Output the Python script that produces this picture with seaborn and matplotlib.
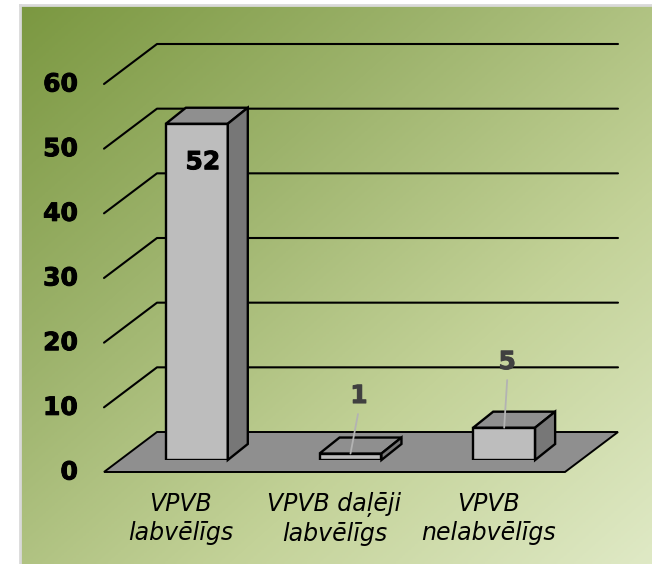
import matplotlib
matplotlib.use("Agg")
import matplotlib.pyplot as plt
import matplotlib.patheffects as pe
import matplotlib.transforms as mtrans
from matplotlib.patches import Polygon
from matplotlib.colors import LinearSegmentedColormap
import numpy as np
import pandas as pd
import seaborn as sns

categories = ["VPVB\nlabvēlīgs", "VPVB daļēji\nlabvēlīgs", "VPVB\nnelabvēlīgs"]
values = [52, 1, 5]
tick_values = [0, 10, 20, 30, 40, 50, 60]

W, H = 652, 564
sns.set_style("white")
plt.rcParams["font.family"] = ["DejaVu Sans"]

fig = plt.figure(figsize=(W / 100, H / 100), dpi=100, facecolor="white")


def px_axes(left, top, right, bottom, **kw):
    return fig.add_axes([left / W, 1 - bottom / H, (right - left) / W, (bottom - top) / H], **kw)


# sfondo con gradiente e bordo
bg = px_axes(20, 5, 652, 564)
cmap = LinearSegmentedColormap.from_list("bg", ["#7b9841", "#9db36c", "#c3d298", "#dfe9c5"])
gx, gy = np.meshgrid(np.linspace(0, 1, 200), np.linspace(0, 1, 200))
bg.imshow((gx + gy) / 2, cmap=cmap, aspect="auto", extent=(0, 1, 0, 1))
bg.set_xticks([])
bg.set_yticks([])
for s in ["top", "left"]:
    bg.spines[s].set_color("#d9d9d9")
    bg.spines[s].set_linewidth(2)
for s in ["right", "bottom"]:
    bg.spines[s].set_visible(False)

# il piano degli assi e' quello delle facce frontali delle barre
ax = px_axes(120, 72, 581, 460)
ax.patch.set_alpha(0)
df = pd.DataFrame({"cat": categories, "val": values})

sns.barplot(data=df, x="cat", y="val", ax=ax, width=0.403, color="#bdbdbd", saturation=1,
            edgecolor="black", linewidth=1.7, zorder=3)
x0, x1 = -0.5, 2.5
ax.set_xlim(x0, x1)
ax.set_ylim(0, 60)

FRONT = (-16, -12)   # spigolo anteriore del pavimento
BACK = (37, 28)      # parete di fondo
DEPTH = (20, 16)     # profondita' delle barre


def shifted(dx, dy):
    return mtrans.offset_copy(ax.transData, fig=fig, x=dx, y=dy, units="dots")


t_f, t_b, t_d = shifted(*FRONT), shifted(*BACK), shifted(*DEPTH)
to_ax = ax.transData.inverted()

# pavimento
corners = [t_f.transform((x0, 0)), t_f.transform((x1, 0)), t_b.transform((x1, 0)), t_b.transform((x0, 0))]
ax.add_patch(Polygon(to_ax.transform(corners), closed=True, fc="#8f8f8f", ec="black", lw=1.4, zorder=1, clip_on=False))

# griglia sulla parete e sul lato sinistro
for v in tick_values[1:]:
    pts = to_ax.transform([t_f.transform((x0, v)), t_b.transform((x0, v)), t_b.transform((x1, v))])
    ax.plot(pts[:, 0], pts[:, 1], color="black", lw=1.5, zorder=1, clip_on=False)

# facce laterale e superiore di ogni barra
for bar in list(ax.containers[0]):
    l, w, h = bar.get_x(), bar.get_width(), bar.get_height()
    r = l + w
    top = [ax.transData.transform((l, h)), ax.transData.transform((r, h)), t_d.transform((r, h)), t_d.transform((l, h))]
    side = [ax.transData.transform((r, 0)), ax.transData.transform((r, h)), t_d.transform((r, h)), t_d.transform((r, 0))]
    ax.add_patch(Polygon(to_ax.transform(top), closed=True, fc="#8f8f8f", ec="black", lw=1.7, zorder=3, clip_on=False))
    ax.add_patch(Polygon(to_ax.transform(side), closed=True, fc="#777777", ec="black", lw=1.7, zorder=3, clip_on=False))

# etichette dei valori (scostamenti in pixel dalla cima della barra)
label_offset = [(6, -38.5), (8.5, 57.5), (3, 65.6)]
label_color = ["black", "#404040", "#404040"]
leader_start = [None, (7.5, 39.5), (3, 47.6)]
for i, v in enumerate(values):
    ox, oy = label_offset[i]
    txt = ax.annotate(str(v), xy=(i, v), xytext=(ox * 0.72, oy * 0.72), textcoords="offset points", ha="center", va="center",
                      fontsize=18, fontweight="bold", color=label_color[i], zorder=5)
    txt.set_path_effects([pe.withStroke(linewidth=0.7, foreground=label_color[i])])
    if leader_start[i] is not None:
        lx, ly = leader_start[i]
        ax.annotate("", xy=(i, v), xytext=(lx * 0.72, ly * 0.72), textcoords="offset points",
                    arrowprops=dict(arrowstyle="-", color="#b3b3b3", lw=1.3, shrinkA=0, shrinkB=0), zorder=4)

# etichette degli assi, sul piano anteriore
sns.despine(ax=ax, left=True, bottom=True)
ax.set_xlabel("")
ax.set_ylabel("")
ax.set_yticks(tick_values)
ax.set_yticklabels(tick_values, fontsize=18, fontweight="bold", color="black")
ax.tick_params(axis="y", length=0, pad=0)
for lab in ax.get_yticklabels():
    lab.set_transform(lab.get_transform() + mtrans.Affine2D().translate(-42, -10))
    lab.set_path_effects([pe.withStroke(linewidth=0.7, foreground="black")])
ax.set_xticks(range(3))
ax.set_xticklabels(categories, fontsize=17, fontstyle="italic", color="black", linespacing=1.27)
ax.tick_params(axis="x", length=0, pad=0)
for lab in ax.get_xticklabels():
    lab.set_transform(lab.get_transform() + mtrans.Affine2D().translate(-16, -32))

fig.savefig("out.png", dpi=100, facecolor="white")
